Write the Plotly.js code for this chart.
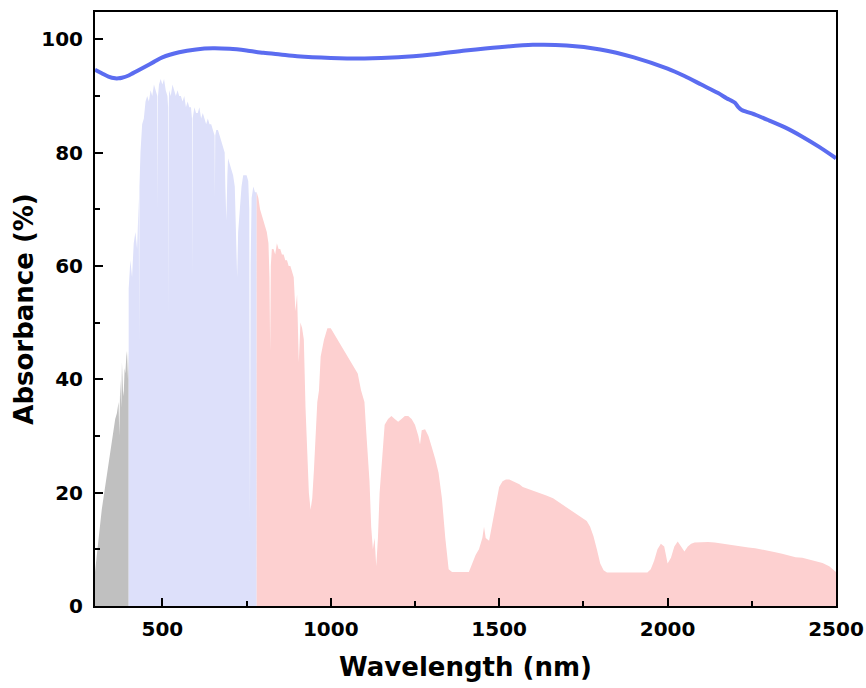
<!DOCTYPE html>
<html>
<head>
<meta charset="utf-8">
<script src="https://cdn.plot.ly/plotly-3.0.1.min.js"></script>
<style>html,body{margin:0;padding:0;background:#fff;}#chart{width:866px;height:688px;}</style>
</head>
<body>
<div id="chart"></div>
<script>
// UV part of solar spectrum (gray)
var wlUV  = [300,305,310,315,320,325,330,335,340,345,350,355,360,365,370,372,375,378,380,383,385,388,390,393,395,398,400];
var absUV = [6,9,11,14,17,19,21,23,25,27,29,31,33,34,36,30,40,35,43,38,37,42,41,44,45,40,45];

// Visible part (blue)
var wlVis  = [400,403,405,410,415,420,425,430,431,432,435,440,445,450,455,460,465,470,475,480,485,486,487,490,495,500,505,510,515,517,518,519,520,525,530,535,540,545,550,555,560,565,570,575,580,585,588,589,590,595,600,605,610,615,620,625,630,635,640,645,650,655,656,657,660,665,670,675,680,685,687,690,693,695,700,705,710,715,718,720,722,725,730,735,740,745,750,755,758,760,762,765,770,775,780];
var absVis = [56,60,61,58,64,66,63,72,46,74,80,85,86,89,90,89,91,90,92,91,90,70,90,92,93,92,93,91,90,88,51,88,91,90,92,91,90,91,90,90,89,90,88,89,88,88,86,58,86,88,87,87,88,86,87,86,85,86,85,85,84,83,72,83,84,84,83,82,81,80,74,68,76,79,78,77,76,74,66,62,58,66,71,74,76,76,76,75,70,15,60,72,74,73,73];

// Infrared part (red)
var wlIR  = [780,785,790,795,800,805,810,815,818,820,822,825,830,835,840,845,850,855,860,865,870,875,880,885,890,895,900,905,910,915,920,925,930,935,940,945,950,955,960,965,970,980,990,1000,1010,1020,1030,1040,1050,1060,1070,1080,1090,1100,1105,1110,1115,1120,1125,1130,1135,1140,1145,1150,1155,1160,1170,1180,1190,1200,1210,1220,1230,1240,1250,1260,1265,1270,1280,1290,1300,1310,1320,1330,1340,1350,1360,1370,1380,1390,1400,1410,1420,1430,1440,1450,1455,1460,1470,1475,1480,1490,1500,1510,1520,1530,1540,1550,1560,1570,1580,1600,1620,1640,1660,1680,1700,1720,1740,1760,1770,1780,1790,1800,1810,1820,1840,1860,1880,1900,1920,1940,1950,1960,1970,1980,1990,2000,2010,2020,2030,2040,2050,2060,2070,2080,2100,2120,2140,2160,2180,2200,2220,2240,2260,2280,2300,2320,2340,2360,2380,2400,2420,2440,2460,2480,2500];
var absIR = [73,72,70,69,68,67,66,64,58,45,60,63,63,62,64,63,63,62,62,61,61,60,60,59,58,52,55,43,50,49,47,35,28,20,17,19,24,30,36,38,44,47,49,49,48,47,46,45,44,43,42,41,38,36,31,27,22,14,10,12,7,12,20,24,29,32,33,33.5,33,32.5,33,33.5,33.5,33,32,30,28.5,31,31.2,30,28,26,23.5,19,12,6.5,6,6,6,6,6,6,7.5,9,10,12,14,12,11.5,13,15,18,21,22,22.3,22.3,22,21.8,21.5,21,20.8,20.3,19.9,19.5,19,18.2,17.3,16.5,15.7,15,14,12.3,10,7.5,6.3,5.9,5.9,5.9,5.9,5.9,5.9,5.9,6.5,8,10,11,10.5,7.5,8.5,10.5,11.4,10.5,9.6,10.5,11,11.2,11.3,11.3,11.2,11,10.9,10.7,10.5,10.3,10.2,10,9.8,9.5,9.2,8.9,8.6,8.5,8.2,8,7.6,7,6];

// Absorbance curve (blue line)
var wlLine  = [300,320,340,360,370,380,400,425,450,475,500,550,600,650,700,750,800,850,900,1000,1100,1200,1300,1400,1500,1600,1700,1800,1900,2000,2050,2100,2150,2175,2200,2210,2220,2250,2300,2350,2400,2450,2500];
var absLine = [94.6,94.0,93.4,93.1,93.1,93.2,93.6,94.4,95.2,96.0,96.8,97.7,98.2,98.4,98.3,98.0,97.6,97.3,97.0,96.7,96.6,96.8,97.3,98.0,98.6,99.0,98.9,98.2,96.8,94.8,93.5,92.0,90.5,89.6,88.8,88.0,87.5,86.9,85.7,84.4,82.8,81.0,79.0];

var xTickVals = [500,1000,1500,2000,2500];
var yTickVals = [0,20,40,60,80,100];

var traces = [
  {x: wlUV, y: absUV, type: 'scatter', mode: 'lines', fill: 'tozeroy',
   fillcolor: '#c0c0c0', line: {width: 0, color: '#c0c0c0'}, hoverinfo: 'skip'},
  {x: wlVis, y: absVis, type: 'scatter', mode: 'lines', fill: 'tozeroy',
   fillcolor: '#dde0fa', line: {width: 0, color: '#dde0fa'}, hoverinfo: 'skip'},
  {x: wlIR, y: absIR, type: 'scatter', mode: 'lines', fill: 'tozeroy',
   fillcolor: '#fdd0d0', line: {width: 0, color: '#fdd0d0'}, hoverinfo: 'skip'},
  {x: wlLine, y: absLine, type: 'scatter', mode: 'lines',
   line: {width: 4, color: '#5b6cf0', shape: 'spline', smoothing: 0.8}}
];

var fontFam = 'DejaVu Sans, Arial, sans-serif';
var layout = {
  width: 866, height: 688,
  margin: {l: 95, r: 30, t: 12, b: 82},
  paper_bgcolor: '#ffffff', plot_bgcolor: '#ffffff',
  showlegend: false,
  xaxis: {
    range: [300, 2500], tickvals: xTickVals, ticktext: xTickVals.map(String),
    ticks: 'inside', ticklen: 8, tickwidth: 2, tickcolor: '#000',
    ticklabelstandoff: 4,
    minor: {dtick: 250, tick0: 250, ticks: 'inside', ticklen: 5, tickwidth: 2, tickcolor: '#000', showgrid: false},
    showline: true, linewidth: 2, linecolor: '#000', mirror: true,
    showgrid: false, zeroline: false,
    tickfont: {family: fontFam, size: 20, color: '#000', weight: 'bold'},
    title: {text: '<b>Wavelength (nm)</b>', font: {family: fontFam, size: 26, color: '#000'}, standoff: 18}
  },
  yaxis: {
    range: [0, 104.8], tickvals: yTickVals, ticktext: yTickVals.map(String),
    ticks: 'inside', ticklen: 8, tickwidth: 2, tickcolor: '#000',
    ticklabelstandoff: 6,
    minor: {dtick: 10, tick0: 0, ticks: 'inside', ticklen: 5, tickwidth: 2, tickcolor: '#000', showgrid: false},
    showline: true, linewidth: 2, linecolor: '#000', mirror: true,
    showgrid: false, zeroline: false,
    tickfont: {family: fontFam, size: 20, color: '#000', weight: 'bold'},
    title: {text: '<b>Absorbance (%)</b>', font: {family: fontFam, size: 26, color: '#000'}, standoff: 0}
  }
};

Plotly.newPlot('chart', traces, layout, {displayModeBar: false, staticPlot: true});
</script>
</body>
</html>
